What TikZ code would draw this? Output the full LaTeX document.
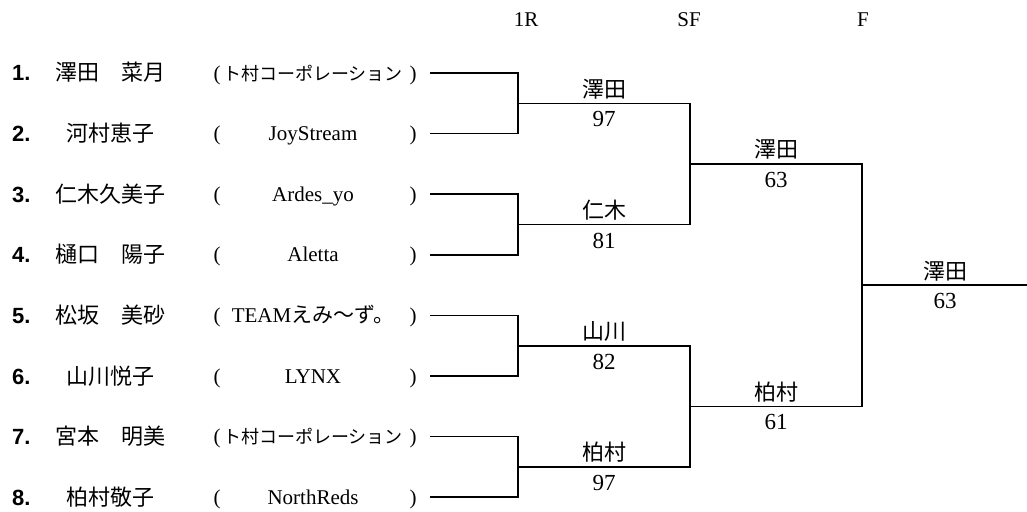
\documentclass[tikz,border=0pt]{standalone}
\usepackage{fontspec}
\setmainfont{Liberation Serif}
\newfontfamily\jpfont{Noto Sans CJK JP}
\newfontfamily\seedfont{Liberation Sans}
\newcommand\tmcorp{{\jpfont\fontsize{18}{20}\selectfont ト村コーポレーション}}
\tikzset{
  seed/.style={anchor=base west,inner sep=0pt,font=\seedfont\bfseries\fontsize{22}{24}\selectfont},
  player/.style={anchor=base,inner sep=0pt,font=\jpfont\fontsize{22}{24}\selectfont},
  team/.style={anchor=base,inner sep=0pt,font=\fontsize{21}{23}\selectfont},
  winner/.style={anchor=base,inner sep=0pt,font=\jpfont\fontsize{22}{24}\selectfont},
  score/.style={anchor=base,inner sep=0pt,font=\fontsize{23}{25}\selectfont},
  head/.style={inner sep=0pt,font=\fontsize{21}{23}\selectfont},
  bracket/.style={line width=1.6pt}
}
\begin{document}
\begin{tikzpicture}[x=1pt,y=-1pt]
  \useasboundingbox (0,0) rectangle (1027,511);
  % round titles
  \node[head] (h1) at (526,20) {1R};
  \node[head] (h2) at (689,20) {SF};
  \node[head] (h3) at (863,20) {F};
  % entries
  \foreach \i/\nm/\tm in {1/澤田　菜月/\tmcorp, 2/河村恵子/JoyStream,
      3/仁木久美子/Ardes\_yo, 4/樋口　陽子/Aletta,
      5/松坂　美砂/{TEAM{\jpfont えみ～ず。}}, 6/山川悦子/LYNX,
      7/宮本　明美/\tmcorp, 8/柏村敬子/NorthReds} {
    \pgfmathsetmacro\ry{73+60.6*(\i-1)}
    \node[seed] (n\i) at (12,\ry+8) {\i.};
    \node[player] (pl\i) at (110,\ry+8) {\nm};
    \node[team] (lp\i) at (217,\ry+7) {(};
    \node[team] (t\i) at (313,\ry+7) {\tm};
    \node[team] (rp\i) at (413,\ry+7) {)};
    \coordinate (e\i) at (430,\ry);
  }
  % match points
  \coordinate (q1) at (518,103.3);
  \coordinate (q2) at (518,224.5);
  \coordinate (q3) at (518,345.7);
  \coordinate (q4) at (518,466.9);
  \coordinate (s1) at (690,163.9);
  \coordinate (s2) at (690,406.3);
  \coordinate (fc) at (862,285.1);
  \coordinate (fe) at (1027,285.1);
  \foreach \a/\b/\q in {1/2/1,3/4/2,5/6/3,7/8/4}
    \draw[bracket] (e\a) -| (q\q) |- (e\b);
  \draw[bracket] (q1) -| (s1) |- (q2);
  \draw[bracket] (q3) -| (s2) |- (q4);
  \draw[bracket] (s1) -| (fc) |- (s2);
  \draw[bracket] (fc) -- (fe);
  % winners and scores
  \foreach \k/\x/\y/\nm/\sc in {1/604/103.3/澤田/97, 2/604/224.5/仁木/81,
      3/604/345.7/山川/82, 4/604/466.9/柏村/97, 5/776/163.9/澤田/63,
      6/776/406.3/柏村/61, 7/945/285.1/澤田/63} {
    \node[winner] (w\k) at (\x,\y-6) {\nm};
    \node[score] (sc\k) at (\x,\y+23.5) {\sc};
  }
\end{tikzpicture}
\end{document}
